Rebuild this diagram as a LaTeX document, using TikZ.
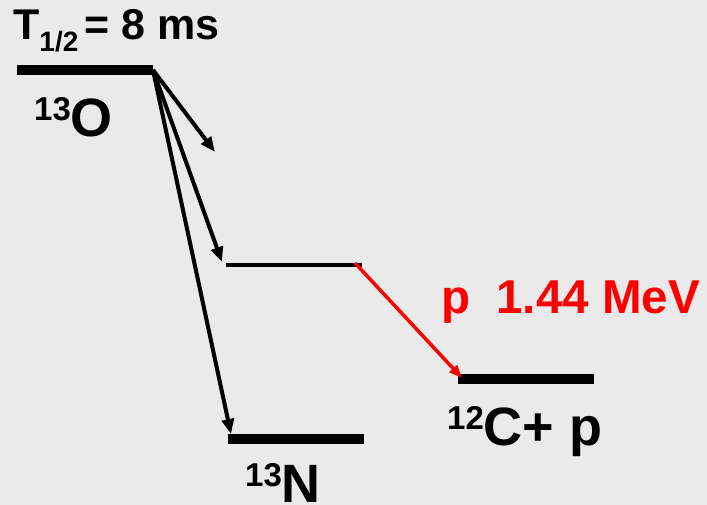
\documentclass[tikz,border=0pt]{standalone}
\usepackage{fontspec}
\setmainfont{Liberation Sans}
\usepackage{xcolor}
\usepackage{tikz}
\usetikzlibrary{arrows.meta}
\definecolor{bgGray}{HTML}{EAEAEA}
\definecolor{protonRed}{HTML}{FF0000}
\newcommand{\isolabel}[2]{\raisebox{16pt}{\fontsize{33}{33}\selectfont #1}\fontsize{54}{54}\selectfont #2}
\tikzset{
  level/.style={line width=10pt},
  midlevel/.style={line width=4pt},
  decay/.style={line width=4pt, -{Triangle[length=15pt,width=12pt]}},
  proton/.style={protonRed, line width=3.5pt, -{Triangle[length=13pt,width=10pt]}},
  lbl/.style={inner sep=0pt, anchor=base west, font=\bfseries},
}

\begin{document}
\begin{tikzpicture}[x=1pt, y=-1pt]
  % Background
  \fill[bgGray] (0,0) rectangle (707,505);
  \useasboundingbox (0,0) rectangle (707,505);

  % Levels
  \coordinate (o13a) at (17,70);   \coordinate (o13b) at (153,70);
  \coordinate (exa) at (226,265);  \coordinate (exb) at (362,265);
  \coordinate (n13a) at (228,439); \coordinate (n13b) at (364,439);
  \coordinate (c12a) at (458,379); \coordinate (c12b) at (594,379);
  \draw[level] (o13a) -- (o13b);
  \draw[midlevel] (exa) -- (exb);
  \draw[level] (n13a) -- (n13b);
  \draw[level] (c12a) -- (c12b);

  % Labels
  \node[lbl] (thalf) at (13,40) {\fontsize{43}{43}\selectfont T\lower12pt\hbox{\fontsize{28}{28}\selectfont 1/2}\kern6pt= 8 ms};
  \node[lbl] (o13) at (34,137) {\isolabel{13}{O}};
  \node[lbl] (n13) at (245,502) {\isolabel{13}{N}};
  \node[lbl] (c12) at (447,445) {\isolabel{12}{C+ p}};
  \node[lbl, text=protonRed] (plbl) at (441,313) {\fontsize{47.5}{47.5}\selectfont p\ \ 1.44 MeV};

  % Decays
  \coordinate (tipa) at (215,152);
  \coordinate (tipb) at (222,262);
  \coordinate (tipc) at (231,434);
  \coordinate (pstart) at (355,263);
  \coordinate (ptip) at (462,378);
  \draw[decay] (o13b) -- (tipa);
  \draw[decay] (o13b) -- (tipb);
  \draw[decay] (o13b) -- (tipc);
  \draw[proton] (pstart) -- (ptip);
\end{tikzpicture}
\end{document}
